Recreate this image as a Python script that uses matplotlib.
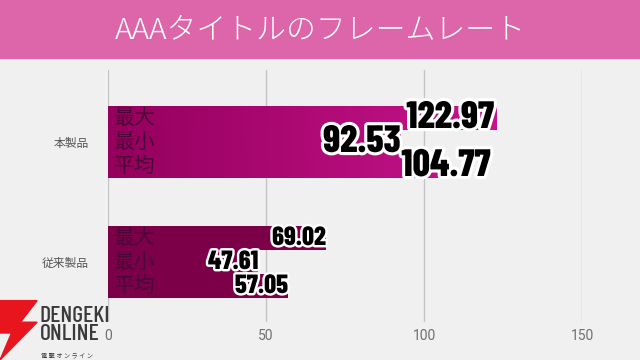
import numpy as np
import matplotlib.pyplot as plt
import matplotlib.patheffects as pe
from matplotlib.colors import LinearSegmentedColormap
from matplotlib.patches import Polygon

plt.rcParams['font.family'] = ['Noto Sans CJK JP', 'DejaVu Sans']

# データ
products = ['本製品', '従来製品']
metrics = ['最大', '最小', '平均']
fps_new = [122.97, 92.53, 104.77]
fps_old = [69.02, 47.61, 57.05]
xticks = [0, 50, 100, 150]

bg = '#f0f0f0'
numfont = 'Barlow Condensed'
fig = plt.figure(figsize=(6.4, 3.6), dpi=100, facecolor=bg)

# タイトル帯
fig.patches.append(plt.Rectangle((0, 1 - 58 / 360), 1, 58 / 360, transform=fig.transFigure,
                                 color='#dc66a9', zorder=0))
fig.text(0.5, 1 - 30 / 360, 'AAAタイトルのフレームレート', color='white', fontsize=21.5,
         ha='center', va='center', fontweight='light')

ax = fig.add_axes([108 / 640, 38 / 360, 474 / 640, 252 / 360])
ax.set_facecolor(bg)
ax.set_xlim(0, 150)
for s in ax.spines.values():
    s.set_visible(False)
ax.set_xticks(xticks)
ax.set_xticklabels([str(t) for t in xticks], family='Roboto')
ax.set_yticks([0, 1])
ax.set_yticklabels(products, fontsize=8.5, color='#555555')
ax.tick_params(length=0, pad=14)
ax.tick_params(axis='x', pad=5, labelsize=10, labelcolor='#707070')
ax.grid(axis='x', color='#c4c4c4', linewidth=1)
ax.set_axisbelow(True)

grad = LinearSegmentedColormap.from_list('g', ['#94005c', '#c8148e'])
h = 0.2
offsets = [-0.2, 0.0, 0.2]
label_shift = [-2, 0, 37]   # 平均のラベルは枠外に出ている

for gi, (vals, big) in enumerate([(fps_new, True), (fps_old, False)]):
    for i, v in enumerate(vals):
        y = gi + offsets[i]
        if big:
            bar = ax.barh(y, v, height=h, color='none', zorder=2)[0]
            img = ax.imshow(np.linspace(0, v / 125, 100).reshape(1, -1), cmap=grad, vmin=0, vmax=1,
                            extent=[0, v, y + h / 2, y - h / 2], aspect='auto', zorder=2)
            img.set_clip_path(bar)
        else:
            ax.barh(y, v, height=h, color='#7b0047', zorder=2)
        ax.text(2, y, metrics[i], fontsize=15, color='#4a0838', va='center', ha='left', zorder=3)
        if big:
            ax.annotate(f'{v:.2f}', (v, y), xytext=(label_shift[i], 0), textcoords='offset points',
                        ha='right', va='center', fontsize=27.5, fontweight='heavy', color='black',
                        family=numfont, zorder=4,
                        path_effects=[pe.withStroke(linewidth=4.5, foreground='white')])
        else:
            ax.text(v, y, f'{v:.2f}', ha='right', va='center', fontsize=19, fontweight='heavy',
                    color='black', family=numfont, zorder=4,
                    path_effects=[pe.withStroke(linewidth=3.5, foreground='white')])

ax.set_ylim(1.5, -0.6)

# ロゴ
fig.patches.append(Polygon([(0.0, 0.165), (0.058, 0.165), (0.032, 0.105), (0.058, 0.105),
                            (0.0, 0.0), (0.018, 0.075), (0.0, 0.075)], closed=True,
                           transform=fig.transFigure, color='#e8141e', zorder=5))
fig.text(0.062, 0.098, 'DENGEKI\nONLINE', fontsize=17, color='#3a3a3a', ha='left', va='center',
         linespacing=0.85, family=numfont, fontweight='medium', zorder=5)
fig.text(0.064, 0.012, '電 撃 オ ン ラ イ ン', fontsize=4.5, color='#3a3a3a', ha='left', va='center', zorder=5)

fig.savefig('out.png', dpi=100, facecolor=bg)
